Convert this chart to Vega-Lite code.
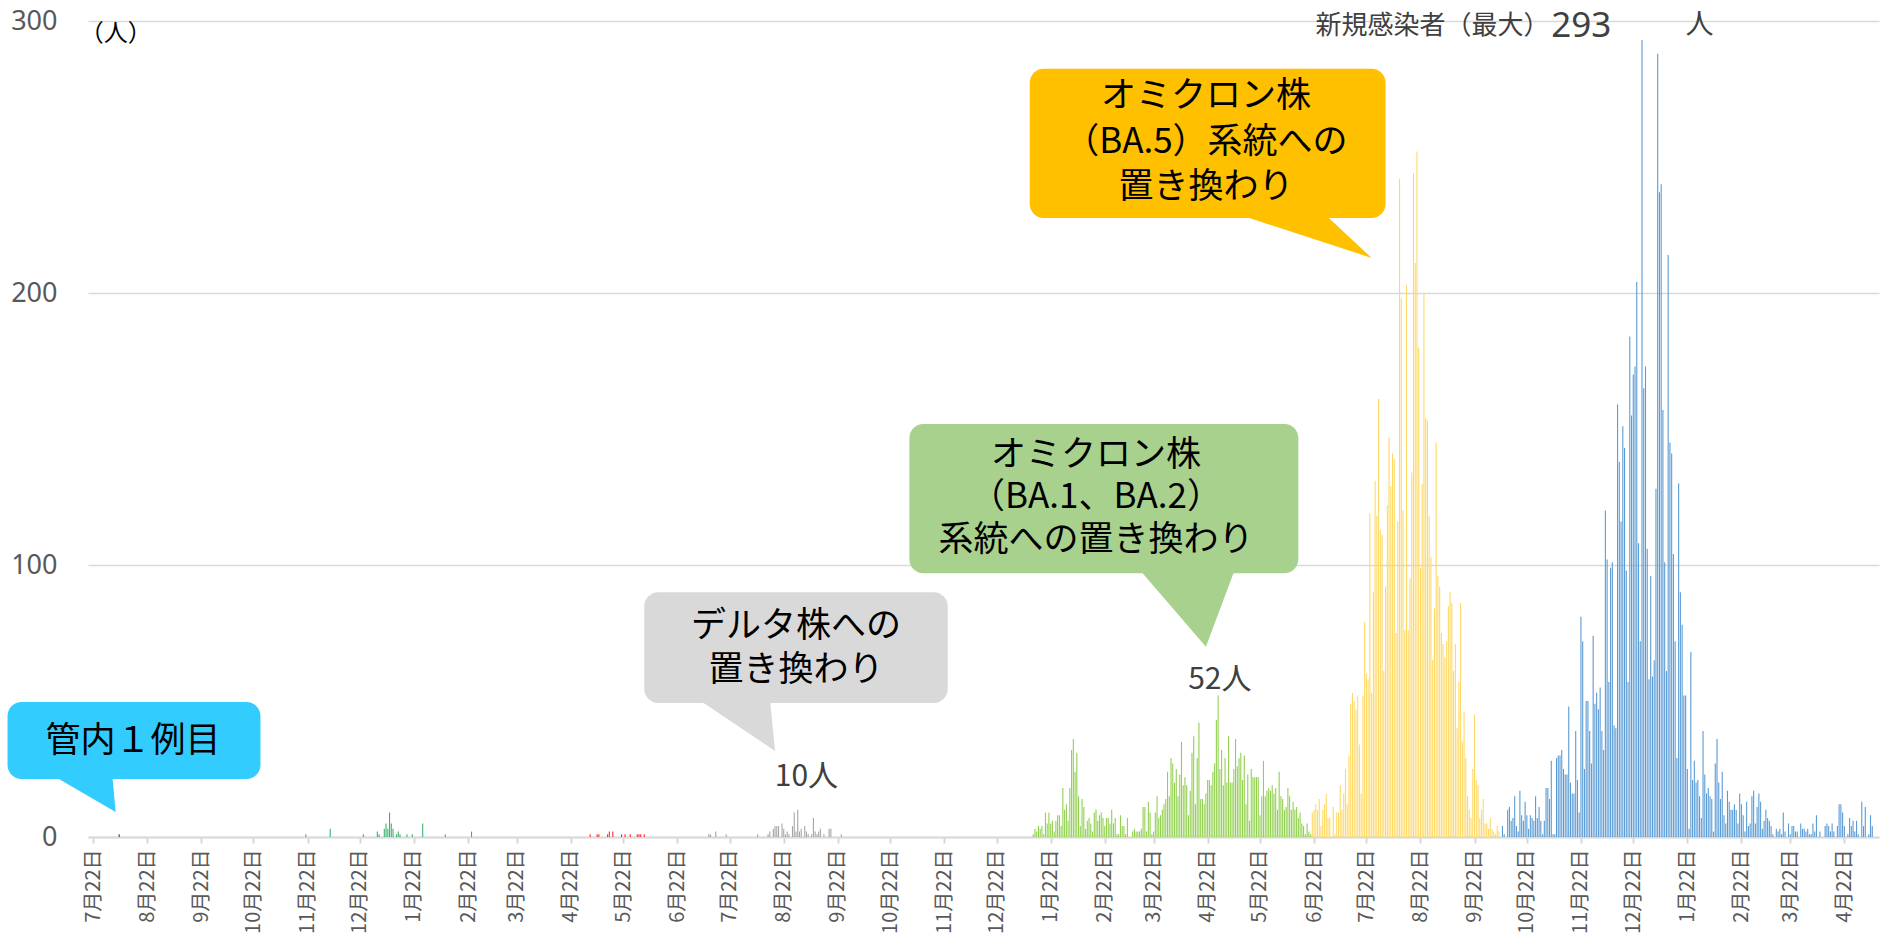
{
  "$schema": "https://vega.github.io/schema/vega-lite/v6.json",
  "autosize": "none",
  "width": 1791,
  "height": 816,
  "padding": {"left": 88, "top": 21, "right": 8, "bottom": 101},
  "background": "white",
  "config": {"font": "Noto Sans CJK JP", "view": {"stroke": null}},
  "datasets": {
    "cases": [
      {"x":"2020-08-06","y":1,"p":"w1"},
      {"x":"2020-11-21","y":1,"p":"w2"},{"x":"2020-12-05","y":3,"p":"w2"},{"x":"2020-12-24","y":1,"p":"w2"},{"x":"2021-01-01","y":2,"p":"w2"},{"x":"2021-01-02","y":1,"p":"w2"},{"x":"2021-01-05","y":3,"p":"w2"},{"x":"2021-01-06","y":5,"p":"w2"},{"x":"2021-01-07","y":3,"p":"w2"},{"x":"2021-01-08","y":9,"p":"w2"},{"x":"2021-01-09","y":5,"p":"w2"},{"x":"2021-01-10","y":3,"p":"w2"},{"x":"2021-01-12","y":1,"p":"w2"},{"x":"2021-01-13","y":2,"p":"w2"},{"x":"2021-01-14","y":1,"p":"w2"},{"x":"2021-01-18","y":1,"p":"w2"},{"x":"2021-01-21","y":1,"p":"w2"},{"x":"2021-01-27","y":5,"p":"w2"},{"x":"2021-02-09","y":1,"p":"w2"},{"x":"2021-02-24","y":2,"p":"w2"},
      {"x":"2021-05-03","y":1,"p":"w3"},{"x":"2021-05-07","y":1,"p":"w3"},{"x":"2021-05-08","y":1,"p":"w3"},{"x":"2021-05-13","y":1,"p":"w3"},{"x":"2021-05-14","y":2,"p":"w3"},{"x":"2021-05-16","y":2,"p":"w3"},{"x":"2021-05-21","y":1,"p":"w3"},{"x":"2021-05-23","y":1,"p":"w3"},{"x":"2021-05-26","y":1,"p":"w3"},{"x":"2021-05-30","y":1,"p":"w3"},{"x":"2021-05-31","y":1,"p":"w3"},{"x":"2021-06-01","y":1,"p":"w3"},{"x":"2021-06-03","y":1,"p":"w3"},
      {"x":"2021-07-10","y":1,"p":"w4"},{"x":"2021-07-11","y":1,"p":"w4"},{"x":"2021-07-14","y":2,"p":"w4"},{"x":"2021-07-20","y":1,"p":"w4"},{"x":"2021-08-07","y":1,"p":"w4"},{"x":"2021-08-13","y":1,"p":"w4"},{"x":"2021-08-14","y":2,"p":"w4"},{"x":"2021-08-16","y":3,"p":"w4"},{"x":"2021-08-17","y":4,"p":"w4"},{"x":"2021-08-18","y":4,"p":"w4"},{"x":"2021-08-19","y":4,"p":"w4"},{"x":"2021-08-21","y":5,"p":"w4"},{"x":"2021-08-22","y":3,"p":"w4"},{"x":"2021-08-23","y":1,"p":"w4"},{"x":"2021-08-24","y":2,"p":"w4"},{"x":"2021-08-25","y":1,"p":"w4"},{"x":"2021-08-27","y":4,"p":"w4"},{"x":"2021-08-28","y":9,"p":"w4"},{"x":"2021-08-29","y":2,"p":"w4"},{"x":"2021-08-30","y":10,"p":"w4"},{"x":"2021-08-31","y":2,"p":"w4"},{"x":"2021-09-01","y":3,"p":"w4"},{"x":"2021-09-03","y":4,"p":"w4"},{"x":"2021-09-04","y":2,"p":"w4"},{"x":"2021-09-05","y":1,"p":"w4"},{"x":"2021-09-07","y":1,"p":"w4"},{"x":"2021-09-08","y":7,"p":"w4"},{"x":"2021-09-09","y":2,"p":"w4"},{"x":"2021-09-10","y":1,"p":"w4"},{"x":"2021-09-11","y":2,"p":"w4"},{"x":"2021-09-12","y":3,"p":"w4"},{"x":"2021-09-14","y":1,"p":"w4"},{"x":"2021-09-17","y":3,"p":"w4"},{"x":"2021-09-18","y":3,"p":"w4"},{"x":"2021-09-24","y":1,"p":"w4"},
      {"x":"2022-01-12","y":1,"p":"w5"},{"x":"2022-01-13","y":3,"p":"w5"},{"x":"2022-01-14","y":2,"p":"w5"},{"x":"2022-01-15","y":4,"p":"w5"},{"x":"2022-01-16","y":3,"p":"w5"},{"x":"2022-01-17","y":4,"p":"w5"},{"x":"2022-01-18","y":1,"p":"w5"},{"x":"2022-01-19","y":9,"p":"w5"},{"x":"2022-01-20","y":5,"p":"w5"},{"x":"2022-01-21","y":9,"p":"w5"},{"x":"2022-01-22","y":5,"p":"w5"},{"x":"2022-01-23","y":6,"p":"w5"},{"x":"2022-01-24","y":2,"p":"w5"},{"x":"2022-01-25","y":6,"p":"w5"},{"x":"2022-01-26","y":8,"p":"w5"},{"x":"2022-01-27","y":8,"p":"w5"},{"x":"2022-01-28","y":4,"p":"w5"},{"x":"2022-01-29","y":18,"p":"w5"},{"x":"2022-01-30","y":10,"p":"w5"},{"x":"2022-01-31","y":12,"p":"w5"},
      {"x":"2022-02-01","y":6,"p":"w5"},{"x":"2022-02-02","y":18,"p":"w5"},{"x":"2022-02-03","y":32,"p":"w5"},{"x":"2022-02-04","y":36,"p":"w5"},{"x":"2022-02-05","y":24,"p":"w5"},{"x":"2022-02-06","y":31,"p":"w5"},{"x":"2022-02-07","y":15,"p":"w5"},{"x":"2022-02-08","y":4,"p":"w5"},{"x":"2022-02-09","y":14,"p":"w5"},{"x":"2022-02-10","y":11,"p":"w5"},{"x":"2022-02-11","y":3,"p":"w5"},{"x":"2022-02-12","y":6,"p":"w5"},{"x":"2022-02-13","y":7,"p":"w5"},{"x":"2022-02-14","y":5,"p":"w5"},{"x":"2022-02-15","y":2,"p":"w5"},{"x":"2022-02-16","y":9,"p":"w5"},{"x":"2022-02-17","y":10,"p":"w5"},{"x":"2022-02-18","y":6,"p":"w5"},{"x":"2022-02-19","y":8,"p":"w5"},{"x":"2022-02-20","y":9,"p":"w5"},{"x":"2022-02-21","y":7,"p":"w5"},{"x":"2022-02-22","y":4,"p":"w5"},{"x":"2022-02-23","y":7,"p":"w5"},{"x":"2022-02-24","y":7,"p":"w5"},{"x":"2022-02-25","y":5,"p":"w5"},{"x":"2022-02-26","y":10,"p":"w5"},{"x":"2022-02-27","y":5,"p":"w5"},{"x":"2022-02-28","y":7,"p":"w5"},
      {"x":"2022-03-01","y":1,"p":"w5"},{"x":"2022-03-02","y":1,"p":"w5"},{"x":"2022-03-03","y":8,"p":"w5"},{"x":"2022-03-04","y":4,"p":"w5"},{"x":"2022-03-05","y":4,"p":"w5"},{"x":"2022-03-06","y":1,"p":"w5"},{"x":"2022-03-07","y":7,"p":"w5"},{"x":"2022-03-10","y":2,"p":"w5"},{"x":"2022-03-11","y":3,"p":"w5"},{"x":"2022-03-12","y":2,"p":"w5"},{"x":"2022-03-13","y":2,"p":"w5"},{"x":"2022-03-14","y":2,"p":"w5"},{"x":"2022-03-15","y":3,"p":"w5"},{"x":"2022-03-16","y":11,"p":"w5"},{"x":"2022-03-17","y":11,"p":"w5"},{"x":"2022-03-18","y":2,"p":"w5"},{"x":"2022-03-19","y":13,"p":"w5"},{"x":"2022-03-20","y":9,"p":"w5"},{"x":"2022-03-21","y":1,"p":"w5"},{"x":"2022-03-22","y":2,"p":"w5"},{"x":"2022-03-23","y":9,"p":"w5"},{"x":"2022-03-24","y":15,"p":"w5"},{"x":"2022-03-25","y":7,"p":"w5"},{"x":"2022-03-26","y":8,"p":"w5"},{"x":"2022-03-27","y":10,"p":"w5"},{"x":"2022-03-28","y":12,"p":"w5"},{"x":"2022-03-29","y":14,"p":"w5"},{"x":"2022-03-30","y":24,"p":"w5"},{"x":"2022-03-31","y":15,"p":"w5"},
      {"x":"2022-04-01","y":29,"p":"w5"},{"x":"2022-04-02","y":27,"p":"w5"},{"x":"2022-04-03","y":20,"p":"w5"},{"x":"2022-04-04","y":25,"p":"w5"},{"x":"2022-04-05","y":15,"p":"w5"},{"x":"2022-04-06","y":23,"p":"w5"},{"x":"2022-04-07","y":35,"p":"w5"},{"x":"2022-04-08","y":19,"p":"w5"},{"x":"2022-04-09","y":22,"p":"w5"},{"x":"2022-04-10","y":19,"p":"w5"},{"x":"2022-04-11","y":8,"p":"w5"},{"x":"2022-04-12","y":17,"p":"w5"},{"x":"2022-04-13","y":31,"p":"w5"},{"x":"2022-04-14","y":37,"p":"w5"},{"x":"2022-04-15","y":12,"p":"w5"},{"x":"2022-04-16","y":29,"p":"w5"},{"x":"2022-04-17","y":42,"p":"w5"},{"x":"2022-04-18","y":14,"p":"w5"},{"x":"2022-04-19","y":14,"p":"w5"},{"x":"2022-04-20","y":12,"p":"w5"},{"x":"2022-04-21","y":16,"p":"w5"},{"x":"2022-04-22","y":21,"p":"w5"},{"x":"2022-04-23","y":21,"p":"w5"},{"x":"2022-04-24","y":19,"p":"w5"},{"x":"2022-04-25","y":24,"p":"w5"},{"x":"2022-04-26","y":27,"p":"w5"},{"x":"2022-04-27","y":43,"p":"w5"},{"x":"2022-04-28","y":52,"p":"w5"},{"x":"2022-04-29","y":25,"p":"w5"},{"x":"2022-04-30","y":32,"p":"w5"},
      {"x":"2022-05-01","y":19,"p":"w5"},{"x":"2022-05-02","y":29,"p":"w5"},{"x":"2022-05-03","y":20,"p":"w5"},{"x":"2022-05-04","y":37,"p":"w5"},{"x":"2022-05-05","y":20,"p":"w5"},{"x":"2022-05-06","y":20,"p":"w5"},{"x":"2022-05-07","y":25,"p":"w5"},{"x":"2022-05-08","y":36,"p":"w5"},{"x":"2022-05-09","y":26,"p":"w5"},{"x":"2022-05-10","y":29,"p":"w5"},{"x":"2022-05-11","y":31,"p":"w5"},{"x":"2022-05-12","y":21,"p":"w5"},{"x":"2022-05-13","y":30,"p":"w5"},{"x":"2022-05-14","y":12,"p":"w5"},{"x":"2022-05-15","y":23,"p":"w5"},{"x":"2022-05-16","y":6,"p":"w5"},{"x":"2022-05-17","y":25,"p":"w5"},{"x":"2022-05-18","y":22,"p":"w5"},{"x":"2022-05-19","y":22,"p":"w5"},{"x":"2022-05-20","y":22,"p":"w5"},{"x":"2022-05-21","y":22,"p":"w5"},{"x":"2022-05-22","y":8,"p":"w5"},{"x":"2022-05-23","y":15,"p":"w5"},{"x":"2022-05-24","y":28,"p":"w5"},{"x":"2022-05-25","y":15,"p":"w5"},{"x":"2022-05-26","y":17,"p":"w5"},{"x":"2022-05-27","y":18,"p":"w5"},{"x":"2022-05-28","y":17,"p":"w5"},{"x":"2022-05-29","y":19,"p":"w5"},{"x":"2022-05-30","y":16,"p":"w5"},{"x":"2022-05-31","y":18,"p":"w5"},
      {"x":"2022-06-01","y":10,"p":"w5"},{"x":"2022-06-02","y":24,"p":"w5"},{"x":"2022-06-03","y":15,"p":"w5"},{"x":"2022-06-04","y":14,"p":"w5"},{"x":"2022-06-05","y":10,"p":"w5"},{"x":"2022-06-06","y":11,"p":"w5"},{"x":"2022-06-07","y":18,"p":"w5"},{"x":"2022-06-08","y":15,"p":"w5"},{"x":"2022-06-09","y":10,"p":"w5"},{"x":"2022-06-10","y":13,"p":"w5"},{"x":"2022-06-11","y":10,"p":"w5"},{"x":"2022-06-12","y":11,"p":"w5"},{"x":"2022-06-13","y":7,"p":"w5"},{"x":"2022-06-14","y":9,"p":"w5"},{"x":"2022-06-15","y":5,"p":"w5"},{"x":"2022-06-16","y":4,"p":"w5"},{"x":"2022-06-17","y":1,"p":"w5"},{"x":"2022-06-18","y":5,"p":"w5"},{"x":"2022-06-19","y":2,"p":"w5"},{"x":"2022-06-20","y":1,"p":"w5"},
      {"x":"2022-06-21","y":9,"p":"w6"},{"x":"2022-06-22","y":10,"p":"w6"},{"x":"2022-06-23","y":12,"p":"w6"},{"x":"2022-06-24","y":10,"p":"w6"},{"x":"2022-06-25","y":14,"p":"w6"},{"x":"2022-06-26","y":4,"p":"w6"},{"x":"2022-06-27","y":10,"p":"w6"},{"x":"2022-06-28","y":12,"p":"w6"},{"x":"2022-06-29","y":16,"p":"w6"},{"x":"2022-06-30","y":7,"p":"w6"},
      {"x":"2022-07-01","y":7,"p":"w6"},{"x":"2022-07-03","y":11,"p":"w6"},{"x":"2022-07-04","y":1,"p":"w6"},{"x":"2022-07-05","y":9,"p":"w6"},{"x":"2022-07-06","y":9,"p":"w6"},{"x":"2022-07-07","y":19,"p":"w6"},{"x":"2022-07-08","y":10,"p":"w6"},{"x":"2022-07-09","y":16,"p":"w6"},{"x":"2022-07-10","y":25,"p":"w6"},{"x":"2022-07-11","y":12,"p":"w6"},{"x":"2022-07-12","y":30,"p":"w6"},{"x":"2022-07-13","y":49,"p":"w6"},{"x":"2022-07-14","y":53,"p":"w6"},{"x":"2022-07-15","y":50,"p":"w6"},{"x":"2022-07-16","y":47,"p":"w6"},{"x":"2022-07-17","y":52,"p":"w6"},{"x":"2022-07-18","y":34,"p":"w6"},{"x":"2022-07-19","y":16,"p":"w6"},{"x":"2022-07-20","y":52,"p":"w6"},{"x":"2022-07-21","y":79,"p":"w6"},{"x":"2022-07-22","y":60,"p":"w6"},{"x":"2022-07-23","y":58,"p":"w6"},{"x":"2022-07-24","y":119,"p":"w6"},{"x":"2022-07-25","y":53,"p":"w6"},{"x":"2022-07-26","y":90,"p":"w6"},{"x":"2022-07-27","y":131,"p":"w6"},{"x":"2022-07-28","y":118,"p":"w6"},{"x":"2022-07-29","y":161,"p":"w6"},{"x":"2022-07-30","y":113,"p":"w6"},{"x":"2022-07-31","y":111,"p":"w6"},
      {"x":"2022-08-01","y":61,"p":"w6"},{"x":"2022-08-02","y":92,"p":"w6"},{"x":"2022-08-03","y":122,"p":"w6"},{"x":"2022-08-04","y":147,"p":"w6"},{"x":"2022-08-05","y":129,"p":"w6"},{"x":"2022-08-06","y":141,"p":"w6"},{"x":"2022-08-07","y":139,"p":"w6"},{"x":"2022-08-08","y":75,"p":"w6"},{"x":"2022-08-09","y":116,"p":"w6"},{"x":"2022-08-10","y":242,"p":"w6"},{"x":"2022-08-11","y":198,"p":"w6"},{"x":"2022-08-12","y":120,"p":"w6"},{"x":"2022-08-13","y":76,"p":"w6"},{"x":"2022-08-14","y":203,"p":"w6"},{"x":"2022-08-15","y":76,"p":"w6"},{"x":"2022-08-16","y":95,"p":"w6"},{"x":"2022-08-17","y":134,"p":"w6"},{"x":"2022-08-18","y":244,"p":"w6"},{"x":"2022-08-19","y":211,"p":"w6"},{"x":"2022-08-20","y":252,"p":"w6"},{"x":"2022-08-21","y":180,"p":"w6"},{"x":"2022-08-22","y":99,"p":"w6"},{"x":"2022-08-23","y":130,"p":"w6"},{"x":"2022-08-24","y":200,"p":"w6"},{"x":"2022-08-25","y":154,"p":"w6"},{"x":"2022-08-26","y":153,"p":"w6"},{"x":"2022-08-27","y":118,"p":"w6"},{"x":"2022-08-28","y":103,"p":"w6"},{"x":"2022-08-29","y":65,"p":"w6"},{"x":"2022-08-30","y":84,"p":"w6"},{"x":"2022-08-31","y":145,"p":"w6"},
      {"x":"2022-09-01","y":96,"p":"w6"},{"x":"2022-09-02","y":92,"p":"w6"},{"x":"2022-09-03","y":75,"p":"w6"},{"x":"2022-09-04","y":71,"p":"w6"},{"x":"2022-09-05","y":66,"p":"w6"},{"x":"2022-09-06","y":72,"p":"w6"},{"x":"2022-09-07","y":85,"p":"w6"},{"x":"2022-09-08","y":90,"p":"w6"},{"x":"2022-09-09","y":86,"p":"w6"},{"x":"2022-09-10","y":61,"p":"w6"},{"x":"2022-09-11","y":71,"p":"w6"},{"x":"2022-09-12","y":40,"p":"w6"},{"x":"2022-09-13","y":57,"p":"w6"},{"x":"2022-09-14","y":86,"p":"w6"},{"x":"2022-09-15","y":35,"p":"w6"},{"x":"2022-09-16","y":46,"p":"w6"},{"x":"2022-09-17","y":29,"p":"w6"},{"x":"2022-09-18","y":15,"p":"w6"},{"x":"2022-09-19","y":10,"p":"w6"},{"x":"2022-09-20","y":7,"p":"w6"},{"x":"2022-09-21","y":25,"p":"w6"},{"x":"2022-09-22","y":45,"p":"w6"},{"x":"2022-09-23","y":21,"p":"w6"},{"x":"2022-09-24","y":19,"p":"w6"},{"x":"2022-09-25","y":7,"p":"w6"},{"x":"2022-09-26","y":10,"p":"w6"},{"x":"2022-09-27","y":14,"p":"w6"},{"x":"2022-09-28","y":5,"p":"w6"},{"x":"2022-09-29","y":5,"p":"w6"},{"x":"2022-09-30","y":3,"p":"w6"},
      {"x":"2022-10-01","y":7,"p":"w6"},{"x":"2022-10-02","y":3,"p":"w6"},{"x":"2022-10-03","y":2,"p":"w6"},{"x":"2022-10-04","y":1,"p":"w6"},{"x":"2022-10-05","y":4,"p":"w6"},{"x":"2022-10-06","y":2,"p":"w6"},
      {"x":"2022-10-08","y":4,"p":"w7"},{"x":"2022-10-09","y":1,"p":"w7"},{"x":"2022-10-11","y":10,"p":"w7"},{"x":"2022-10-12","y":11,"p":"w7"},{"x":"2022-10-13","y":6,"p":"w7"},{"x":"2022-10-14","y":7,"p":"w7"},{"x":"2022-10-15","y":15,"p":"w7"},{"x":"2022-10-16","y":4,"p":"w7"},{"x":"2022-10-17","y":2,"p":"w7"},{"x":"2022-10-18","y":17,"p":"w7"},{"x":"2022-10-19","y":8,"p":"w7"},{"x":"2022-10-20","y":6,"p":"w7"},{"x":"2022-10-21","y":13,"p":"w7"},{"x":"2022-10-22","y":8,"p":"w7"},{"x":"2022-10-23","y":3,"p":"w7"},{"x":"2022-10-24","y":8,"p":"w7"},{"x":"2022-10-25","y":7,"p":"w7"},{"x":"2022-10-26","y":6,"p":"w7"},{"x":"2022-10-27","y":15,"p":"w7"},{"x":"2022-10-28","y":7,"p":"w7"},{"x":"2022-10-29","y":11,"p":"w7"},{"x":"2022-10-30","y":6,"p":"w7"},{"x":"2022-10-31","y":1,"p":"w7"},
      {"x":"2022-11-01","y":6,"p":"w7"},{"x":"2022-11-02","y":18,"p":"w7"},{"x":"2022-11-03","y":18,"p":"w7"},{"x":"2022-11-04","y":14,"p":"w7"},{"x":"2022-11-05","y":28,"p":"w7"},{"x":"2022-11-06","y":1,"p":"w7"},{"x":"2022-11-07","y":1,"p":"w7"},{"x":"2022-11-08","y":29,"p":"w7"},{"x":"2022-11-09","y":30,"p":"w7"},{"x":"2022-11-10","y":30,"p":"w7"},{"x":"2022-11-11","y":32,"p":"w7"},{"x":"2022-11-12","y":25,"p":"w7"},{"x":"2022-11-13","y":23,"p":"w7"},{"x":"2022-11-14","y":23,"p":"w7"},{"x":"2022-11-15","y":48,"p":"w7"},{"x":"2022-11-16","y":20,"p":"w7"},{"x":"2022-11-17","y":16,"p":"w7"},{"x":"2022-11-18","y":16,"p":"w7"},{"x":"2022-11-19","y":39,"p":"w7"},{"x":"2022-11-20","y":21,"p":"w7"},{"x":"2022-11-21","y":9,"p":"w7"},{"x":"2022-11-22","y":81,"p":"w7"},{"x":"2022-11-23","y":72,"p":"w7"},{"x":"2022-11-24","y":25,"p":"w7"},{"x":"2022-11-25","y":50,"p":"w7"},{"x":"2022-11-26","y":50,"p":"w7"},{"x":"2022-11-27","y":39,"p":"w7"},{"x":"2022-11-28","y":27,"p":"w7"},{"x":"2022-11-29","y":74,"p":"w7"},{"x":"2022-11-30","y":49,"p":"w7"},
      {"x":"2022-12-01","y":53,"p":"w7"},{"x":"2022-12-02","y":47,"p":"w7"},{"x":"2022-12-03","y":55,"p":"w7"},{"x":"2022-12-04","y":39,"p":"w7"},{"x":"2022-12-05","y":32,"p":"w7"},{"x":"2022-12-06","y":120,"p":"w7"},{"x":"2022-12-07","y":102,"p":"w7"},{"x":"2022-12-08","y":57,"p":"w7"},{"x":"2022-12-09","y":99,"p":"w7"},{"x":"2022-12-10","y":101,"p":"w7"},{"x":"2022-12-11","y":41,"p":"w7"},{"x":"2022-12-12","y":40,"p":"w7"},{"x":"2022-12-13","y":159,"p":"w7"},{"x":"2022-12-14","y":138,"p":"w7"},{"x":"2022-12-15","y":116,"p":"w7"},{"x":"2022-12-16","y":151,"p":"w7"},{"x":"2022-12-17","y":143,"p":"w7"},{"x":"2022-12-18","y":98,"p":"w7"},{"x":"2022-12-19","y":57,"p":"w7"},{"x":"2022-12-20","y":184,"p":"w7"},{"x":"2022-12-21","y":155,"p":"w7"},{"x":"2022-12-22","y":170,"p":"w7"},{"x":"2022-12-23","y":173,"p":"w7"},{"x":"2022-12-24","y":204,"p":"w7"},{"x":"2022-12-25","y":108,"p":"w7"},{"x":"2022-12-26","y":72,"p":"w7"},{"x":"2022-12-27","y":293,"p":"w7"},{"x":"2022-12-28","y":165,"p":"w7"},{"x":"2022-12-29","y":173,"p":"w7"},{"x":"2022-12-30","y":106,"p":"w7"},{"x":"2022-12-31","y":58,"p":"w7"},
      {"x":"2023-01-01","y":96,"p":"w7"},{"x":"2023-01-02","y":59,"p":"w7"},{"x":"2023-01-03","y":65,"p":"w7"},{"x":"2023-01-04","y":128,"p":"w7"},{"x":"2023-01-05","y":288,"p":"w7"},{"x":"2023-01-06","y":237,"p":"w7"},{"x":"2023-01-07","y":240,"p":"w7"},{"x":"2023-01-08","y":157,"p":"w7"},{"x":"2023-01-09","y":101,"p":"w7"},{"x":"2023-01-10","y":61,"p":"w7"},{"x":"2023-01-11","y":214,"p":"w7"},{"x":"2023-01-12","y":145,"p":"w7"},{"x":"2023-01-13","y":141,"p":"w7"},{"x":"2023-01-14","y":104,"p":"w7"},{"x":"2023-01-15","y":72,"p":"w7"},{"x":"2023-01-16","y":29,"p":"w7"},{"x":"2023-01-17","y":130,"p":"w7"},{"x":"2023-01-18","y":90,"p":"w7"},{"x":"2023-01-19","y":78,"p":"w7"},{"x":"2023-01-20","y":52,"p":"w7"},{"x":"2023-01-21","y":52,"p":"w7"},{"x":"2023-01-22","y":25,"p":"w7"},{"x":"2023-01-23","y":3,"p":"w7"},{"x":"2023-01-24","y":68,"p":"w7"},{"x":"2023-01-25","y":21,"p":"w7"},{"x":"2023-01-26","y":28,"p":"w7"},{"x":"2023-01-27","y":20,"p":"w7"},{"x":"2023-01-28","y":21,"p":"w7"},{"x":"2023-01-29","y":15,"p":"w7"},{"x":"2023-01-30","y":7,"p":"w7"},{"x":"2023-01-31","y":39,"p":"w7"},
      {"x":"2023-02-01","y":23,"p":"w7"},{"x":"2023-02-02","y":16,"p":"w7"},{"x":"2023-02-03","y":18,"p":"w7"},{"x":"2023-02-04","y":15,"p":"w7"},{"x":"2023-02-05","y":14,"p":"w7"},{"x":"2023-02-06","y":2,"p":"w7"},{"x":"2023-02-07","y":27,"p":"w7"},{"x":"2023-02-08","y":36,"p":"w7"},{"x":"2023-02-09","y":20,"p":"w7"},{"x":"2023-02-10","y":14,"p":"w7"},{"x":"2023-02-11","y":24,"p":"w7"},{"x":"2023-02-12","y":8,"p":"w7"},{"x":"2023-02-13","y":5,"p":"w7"},{"x":"2023-02-14","y":17,"p":"w7"},{"x":"2023-02-15","y":13,"p":"w7"},{"x":"2023-02-16","y":10,"p":"w7"},{"x":"2023-02-17","y":10,"p":"w7"},{"x":"2023-02-18","y":12,"p":"w7"},{"x":"2023-02-19","y":10,"p":"w7"},{"x":"2023-02-20","y":5,"p":"w7"},{"x":"2023-02-21","y":16,"p":"w7"},{"x":"2023-02-22","y":12,"p":"w7"},{"x":"2023-02-23","y":8,"p":"w7"},{"x":"2023-02-24","y":2,"p":"w7"},{"x":"2023-02-25","y":13,"p":"w7"},{"x":"2023-02-26","y":4,"p":"w7"},{"x":"2023-02-27","y":5,"p":"w7"},{"x":"2023-02-28","y":15,"p":"w7"},
      {"x":"2023-03-01","y":17,"p":"w7"},{"x":"2023-03-02","y":5,"p":"w7"},{"x":"2023-03-03","y":11,"p":"w7"},{"x":"2023-03-04","y":16,"p":"w7"},{"x":"2023-03-05","y":13,"p":"w7"},{"x":"2023-03-06","y":3,"p":"w7"},{"x":"2023-03-07","y":6,"p":"w7"},{"x":"2023-03-08","y":10,"p":"w7"},{"x":"2023-03-09","y":7,"p":"w7"},{"x":"2023-03-10","y":6,"p":"w7"},{"x":"2023-03-11","y":4,"p":"w7"},{"x":"2023-03-12","y":1,"p":"w7"},{"x":"2023-03-14","y":3,"p":"w7"},{"x":"2023-03-15","y":2,"p":"w7"},{"x":"2023-03-16","y":3,"p":"w7"},{"x":"2023-03-17","y":1,"p":"w7"},{"x":"2023-03-18","y":9,"p":"w7"},{"x":"2023-03-19","y":2,"p":"w7"},{"x":"2023-03-21","y":5,"p":"w7"},{"x":"2023-03-22","y":1,"p":"w7"},{"x":"2023-03-23","y":4,"p":"w7"},{"x":"2023-03-24","y":4,"p":"w7"},{"x":"2023-03-25","y":2,"p":"w7"},{"x":"2023-03-26","y":2,"p":"w7"},{"x":"2023-03-28","y":5,"p":"w7"},{"x":"2023-03-29","y":3,"p":"w7"},{"x":"2023-03-30","y":3,"p":"w7"},{"x":"2023-03-31","y":2,"p":"w7"},
      {"x":"2023-04-01","y":3,"p":"w7"},{"x":"2023-04-02","y":1,"p":"w7"},{"x":"2023-04-03","y":1,"p":"w7"},{"x":"2023-04-04","y":5,"p":"w7"},{"x":"2023-04-05","y":2,"p":"w7"},{"x":"2023-04-06","y":8,"p":"w7"},{"x":"2023-04-08","y":2,"p":"w7"},{"x":"2023-04-11","y":4,"p":"w7"},{"x":"2023-04-12","y":5,"p":"w7"},{"x":"2023-04-13","y":4,"p":"w7"},{"x":"2023-04-14","y":2,"p":"w7"},{"x":"2023-04-15","y":5,"p":"w7"},{"x":"2023-04-16","y":2,"p":"w7"},{"x":"2023-04-18","y":4,"p":"w7"},{"x":"2023-04-19","y":12,"p":"w7"},{"x":"2023-04-20","y":12,"p":"w7"},{"x":"2023-04-21","y":9,"p":"w7"},{"x":"2023-04-22","y":4,"p":"w7"},{"x":"2023-04-24","y":1,"p":"w7"},{"x":"2023-04-25","y":7,"p":"w7"},{"x":"2023-04-26","y":4,"p":"w7"},{"x":"2023-04-27","y":6,"p":"w7"},{"x":"2023-04-28","y":2,"p":"w7"},{"x":"2023-04-29","y":6,"p":"w7"},{"x":"2023-04-30","y":1,"p":"w7"},
      {"x":"2023-05-02","y":13,"p":"w7"},{"x":"2023-05-03","y":4,"p":"w7"},{"x":"2023-05-04","y":11,"p":"w7"},{"x":"2023-05-06","y":1,"p":"w7"},{"x":"2023-05-07","y":8,"p":"w7"},{"x":"2023-05-08","y":4,"p":"w7"}
    ],
    "boxes": [
      {"id":"A","x":"2020-06-03","x2":"2020-10-26","y":21.3,"y2":49.6},
      {"id":"B","x":"2021-06-03","x2":"2021-11-24","y":49.3,"y2":90},
      {"id":"C","x":"2021-11-02","x2":"2022-06-13","y":97,"y2":151.8},
      {"id":"D","x":"2022-01-10","x2":"2022-08-02","y":227.6,"y2":282.4}
    ],
    "pointers": [
      {"id":"A","y":23,"x":"2020-06-28","x2":"2020-08-02"},
      {"id":"A","y":9.2,"x":"2020-08-04","x2":"2020-08-04"},
      {"id":"B","y":51,"x":"2021-07-03","x2":"2021-08-14"},
      {"id":"B","y":31.6,"x":"2021-08-17","x2":"2021-08-17"},
      {"id":"C","y":99,"x":"2022-03-13","x2":"2022-05-08"},
      {"id":"C","y":69.9,"x":"2022-04-21","x2":"2022-04-21"},
      {"id":"D","y":229,"x":"2022-05-09","x2":"2022-06-28"},
      {"id":"D","y":212.9,"x":"2022-07-25","x2":"2022-07-25"}
    ],
    "calloutText": [
      {"x":"2020-08-14","y":35.3,"t":"管内１例目"},
      {"x":"2021-08-29","y":77.6,"t":"デルタ株への"},
      {"x":"2021-08-29","y":61.4,"t":"置き換わり"},
      {"x":"2022-02-17","y":140.4,"t":"オミクロン株"},
      {"x":"2022-02-17","y":125,"t":"（BA.1、BA.2）"},
      {"x":"2022-02-17","y":109.2,"t":"系統への置き換わり"},
      {"x":"2022-04-21","y":272.4,"t":"オミクロン株"},
      {"x":"2022-04-21","y":255.5,"t":"（BA.5）系統への"},
      {"x":"2022-04-21","y":239,"t":"置き換わり"}
    ],
    "peakText": [
      {"x":"2021-09-04","y":22,"t":"10人"},
      {"x":"2022-04-29","y":57.7,"t":"52人"}
    ]
  },
  "encoding": {
    "x": {
      "field": "x", "type": "temporal",
      "scale": {"type": "utc", "nice": false, "domain": [{"year":2020,"month":7,"date":22,"utc":true},{"year":2023,"month":5,"date":9,"utc":true}]},
      "axis": {
        "title": null, "grid": false,
        "values": [
          {"year":2020,"month":7,"date":22,"utc":true},{"year":2020,"month":8,"date":22,"utc":true},{"year":2020,"month":9,"date":22,"utc":true},{"year":2020,"month":10,"date":22,"utc":true},{"year":2020,"month":11,"date":22,"utc":true},{"year":2020,"month":12,"date":22,"utc":true},
          {"year":2021,"month":1,"date":22,"utc":true},{"year":2021,"month":2,"date":22,"utc":true},{"year":2021,"month":3,"date":22,"utc":true},{"year":2021,"month":4,"date":22,"utc":true},{"year":2021,"month":5,"date":22,"utc":true},{"year":2021,"month":6,"date":22,"utc":true},{"year":2021,"month":7,"date":22,"utc":true},{"year":2021,"month":8,"date":22,"utc":true},{"year":2021,"month":9,"date":22,"utc":true},{"year":2021,"month":10,"date":22,"utc":true},{"year":2021,"month":11,"date":22,"utc":true},{"year":2021,"month":12,"date":22,"utc":true},
          {"year":2022,"month":1,"date":22,"utc":true},{"year":2022,"month":2,"date":22,"utc":true},{"year":2022,"month":3,"date":22,"utc":true},{"year":2022,"month":4,"date":22,"utc":true},{"year":2022,"month":5,"date":22,"utc":true},{"year":2022,"month":6,"date":22,"utc":true},{"year":2022,"month":7,"date":22,"utc":true},{"year":2022,"month":8,"date":22,"utc":true},{"year":2022,"month":9,"date":22,"utc":true},{"year":2022,"month":10,"date":22,"utc":true},{"year":2022,"month":11,"date":22,"utc":true},{"year":2022,"month":12,"date":22,"utc":true},
          {"year":2023,"month":1,"date":22,"utc":true},{"year":2023,"month":2,"date":22,"utc":true},{"year":2023,"month":3,"date":22,"utc":true},{"year":2023,"month":4,"date":22,"utc":true}
        ],
        "labelExpr": "utcFormat(datum.value, '%-m月%-d日')",
        "labelAngle": -90, "labelFontSize": 20, "labelColor": "#595959", "labelFont": "Noto Sans CJK JP",
        "labelPadding": 6, "labelOverlap": false, "labelBound": false, "labelFlush": false,
        "domainColor": "#D9D9D9", "domainWidth": 2,
        "tickColor": "#D9D9D9", "tickWidth": 2, "tickSize": 6
      }
    },
    "y": {
      "field": "y", "type": "quantitative",
      "scale": {"domain": [0, 300], "nice": false},
      "axis": {
        "title": null, "values": [0, 100, 200, 300],
        "grid": true, "gridColor": "#D9D9D9", "gridWidth": 1.3,
        "domain": false, "ticks": false,
        "labelFontSize": 27, "labelColor": "#595959", "labelFont": "Noto Sans", "labelPadding": 31
      }
    }
  },
  "layer": [
    {
      "data": {"name": "cases"},
      "mark": {"type": "bar", "size": 1.1},
      "encoding": {
        "color": {
          "field": "p", "type": "nominal", "legend": null,
          "scale": {"domain": ["w1","w2","w3","w4","w5","w6","w7"], "range": ["#203F78","#3CB371","#FF2A2A","#A6A6A6","#92D050","#FFD966","#5B9BD5"]}
        }
      }
    },
    {
      "data": {"name": "boxes"},
      "mark": {"type": "rect", "cornerRadius": 14},
      "encoding": {
        "x2": {"field": "x2"},
        "y2": {"field": "y2"},
        "fill": {
          "field": "id", "type": "nominal", "legend": null,
          "scale": {"domain": ["A","B","C","D"], "range": ["#33CCFF","#D9D9D9","#A9D18E","#FFC000"]}
        }
      }
    },
    {
      "data": {"name": "pointers"},
      "mark": {"type": "area", "orient": "horizontal"},
      "encoding": {
        "y": {"field": "y", "type": "quantitative", "stack": null},
        "x2": {"field": "x2"},
        "fill": {"field": "id", "type": "nominal", "legend": null}
      }
    },
    {
      "data": {"name": "calloutText"},
      "mark": {"type": "text", "fontSize": 35, "color": "#000000", "align": "center", "baseline": "middle", "font": "Noto Sans CJK JP"},
      "encoding": {"text": {"field": "t"}}
    },
    {
      "data": {"name": "peakText"},
      "mark": {"type": "text", "fontSize": 30, "color": "#404040", "align": "center", "baseline": "middle", "font": "Noto Sans CJK JP"},
      "encoding": {"text": {"field": "t"}}
    },
    {
      "data": {"values": [{"x":"2022-11-04","y":298,"t":"新規感染者（最大）"}]},
      "mark": {"type": "text", "fontSize": 26, "color": "#404040", "align": "right", "baseline": "middle", "font": "Noto Sans CJK JP"},
      "encoding": {"text": {"field": "t"}}
    },
    {
      "data": {"values": [{"x":"2022-11-05","y":298,"t":"293"}]},
      "mark": {"type": "text", "fontSize": 35, "color": "#404040", "align": "left", "baseline": "middle", "font": "Noto Sans"},
      "encoding": {"text": {"field": "t"}}
    },
    {
      "data": {"values": [{"x":"2023-01-29","y":298,"t":"人"}]},
      "mark": {"type": "text", "fontSize": 28, "color": "#404040", "align": "center", "baseline": "middle", "font": "Noto Sans CJK JP"},
      "encoding": {"text": {"field": "t"}}
    },
    {
      "data": {"values": [{"x":"2020-08-04","y":295.2,"t":"（人）"}]},
      "mark": {"type": "text", "fontSize": 24, "color": "#000000", "align": "center", "baseline": "middle", "font": "Noto Sans CJK JP"},
      "encoding": {"text": {"field": "t"}}
    }
  ]
}
